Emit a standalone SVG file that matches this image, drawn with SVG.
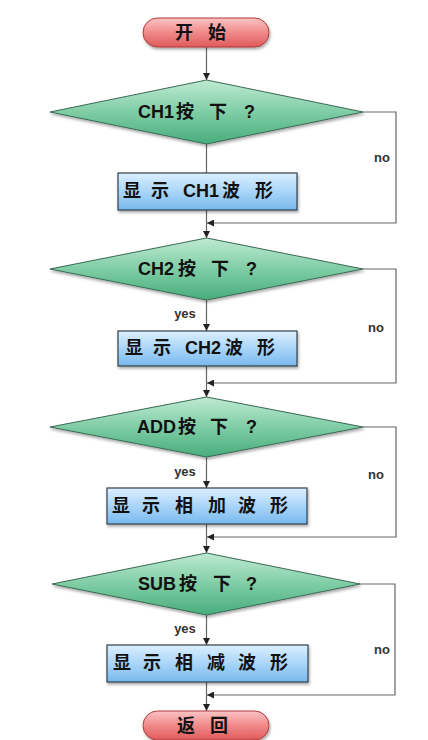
<svg xmlns="http://www.w3.org/2000/svg" width="428" height="740" viewBox="0 0 428 740">
  <defs>
    <linearGradient id="gTerm" x1="0" y1="0" x2="0" y2="1">
      <stop offset="0" stop-color="#fbc4c4"/>
      <stop offset="0.5" stop-color="#f08a8a"/>
      <stop offset="1" stop-color="#e05a5a"/>
    </linearGradient>
    <linearGradient id="gDia" x1="0" y1="0" x2="0" y2="1">
      <stop offset="0" stop-color="#bfead2"/>
      <stop offset="0.5" stop-color="#7fcda5"/>
      <stop offset="1" stop-color="#48ad7c"/>
    </linearGradient>
    <linearGradient id="gBox" x1="0" y1="0" x2="0" y2="1">
      <stop offset="0" stop-color="#dcefff"/>
      <stop offset="0.5" stop-color="#a9d5f8"/>
      <stop offset="1" stop-color="#78b9ee"/>
    </linearGradient>
    <filter id="shadow" x="-10%" y="-20%" width="130%" height="160%">
      <feGaussianBlur in="SourceAlpha" stdDeviation="1.5"/>
      <feOffset dx="1" dy="2"/>
      <feComponentTransfer><feFuncA type="linear" slope="0.35"/></feComponentTransfer>
      <feMerge><feMergeNode/><feMergeNode in="SourceGraphic"/></feMerge>
    </filter>
    <marker id="arrow" viewBox="0 0 10 10" refX="10" refY="5" markerWidth="7" markerHeight="7" orient="auto" markerUnits="userSpaceOnUse">
      <path d="M0,0 L10,5 L0,10 z" fill="#222"/>
    </marker>
  </defs>
  <style>
    .term { fill: url(#gTerm); stroke: #b03a3a; stroke-width: 1; filter: url(#shadow); }
    .dia { fill: url(#gDia); stroke: #3b6a55; stroke-width: 1; filter: url(#shadow); }
    .box { fill: url(#gBox); stroke: #33404d; stroke-width: 1.2; filter: url(#shadow); }
    .lbl { font-family: "Liberation Sans", "Noto Sans CJK SC", sans-serif; font-weight: bold; font-size: 18px; fill: #111; dominant-baseline: central; }
    .small { font-family: "Liberation Sans", "Noto Sans CJK SC", sans-serif; font-weight: bold; font-size: 13px; fill: #333; dominant-baseline: central; }
    .conn { fill: none; stroke: #666; stroke-width: 1.2; }
  </style>
  <rect width="428" height="740" fill="#fff"/>

  <!-- connectors -->
  <g id="connectors">
    <path class="conn" d="M206.5,47 V80" marker-end="url(#arrow)"/>
    <path class="conn" d="M206.5,144 V173"/>
    <path class="conn" d="M206.5,210 V238" marker-end="url(#arrow)"/>
    <path class="conn" d="M363,112 H396 V223 H207" marker-end="url(#arrow)"/>

    <path class="conn" d="M206.5,300 V331" marker-end="url(#arrow)"/>
    <path class="conn" d="M206.5,366 V397" marker-end="url(#arrow)"/>
    <path class="conn" d="M363,269 H396 V383 H207" marker-end="url(#arrow)"/>

    <path class="conn" d="M206.5,457 V488" marker-end="url(#arrow)"/>
    <path class="conn" d="M206.5,524 V553" marker-end="url(#arrow)"/>
    <path class="conn" d="M363,427 H396 V537 H207" marker-end="url(#arrow)"/>

    <path class="conn" d="M206.5,615 V645" marker-end="url(#arrow)"/>
    <path class="conn" d="M206.5,682 V711" marker-end="url(#arrow)"/>
    <path class="conn" d="M360,584 H395 V695 H207" marker-end="url(#arrow)"/>

    <text class="small" x="185" y="313" text-anchor="middle">yes</text>
    <text class="small" x="185" y="471" text-anchor="middle">yes</text>
    <text class="small" x="185" y="628" text-anchor="middle">yes</text>
    <text class="small" x="382" y="157" text-anchor="middle">no</text>
    <text class="small" x="376" y="327" text-anchor="middle">no</text>
    <text class="small" x="376" y="474" text-anchor="middle">no</text>
    <text class="small" x="382" y="649" text-anchor="middle">no</text>
  </g>

  <!-- start -->
  <g id="start">
    <rect class="term" x="143" y="18" width="126" height="29" rx="14.5"/>
    <text class="lbl" y="33"><tspan x="175">开</tspan><tspan x="208">始</tspan></text>
  </g>

  <g id="ch1-check">
    <polygon class="dia" points="206.5,80 363,112 206.5,144 50,112"/>
    <text class="lbl" y="112"><tspan x="138">CH1</tspan><tspan x="176">按</tspan><tspan x="209">下</tspan><tspan x="244">?</tspan></text>
  </g>
  <g id="ch1-show">
    <rect class="box" x="118" y="173" width="179" height="37"/>
    <text class="lbl" y="191"><tspan x="123">显</tspan><tspan x="151">示</tspan><tspan x="183">CH1</tspan><tspan x="222">波</tspan><tspan x="255">形</tspan></text>
  </g>

  <g id="ch2-check">
    <polygon class="dia" points="206.5,238 363,269 206.5,300 50,269"/>
    <text class="lbl" y="269"><tspan x="138">CH2</tspan><tspan x="178">按</tspan><tspan x="211">下</tspan><tspan x="246">?</tspan></text>
  </g>
  <g id="ch2-show">
    <rect class="box" x="118" y="331" width="179" height="35"/>
    <text class="lbl" y="348"><tspan x="125">显</tspan><tspan x="153">示</tspan><tspan x="185">CH2</tspan><tspan x="225">波</tspan><tspan x="257">形</tspan></text>
  </g>

  <g id="add-check">
    <polygon class="dia" points="206.5,397 363,427 206.5,457 50,427"/>
    <text class="lbl" y="427"><tspan x="137">ADD</tspan><tspan x="178">按</tspan><tspan x="210">下</tspan><tspan x="246">?</tspan></text>
  </g>
  <g id="add-show">
    <rect class="box" x="107" y="488" width="200" height="36"/>
    <text class="lbl" y="506"><tspan x="112">显</tspan><tspan x="142">示</tspan><tspan x="175">相</tspan><tspan x="208">加</tspan><tspan x="238">波</tspan><tspan x="270">形</tspan></text>
  </g>

  <g id="sub-check">
    <polygon class="dia" points="206.5,553 360,584 206.5,615 52,584"/>
    <text class="lbl" y="584"><tspan x="138">SUB</tspan><tspan x="179">按</tspan><tspan x="213">下</tspan><tspan x="246">?</tspan></text>
  </g>
  <g id="sub-show">
    <rect class="box" x="107" y="645" width="201" height="37"/>
    <text class="lbl" y="663"><tspan x="113">显</tspan><tspan x="143">示</tspan><tspan x="175">相</tspan><tspan x="207">减</tspan><tspan x="238">波</tspan><tspan x="270">形</tspan></text>
  </g>

  <!-- return -->
  <g id="end">
    <rect class="term" x="143" y="711" width="126" height="29" rx="14.5"/>
    <text class="lbl" y="726"><tspan x="177">返</tspan><tspan x="210">回</tspan></text>
  </g>
</svg>
